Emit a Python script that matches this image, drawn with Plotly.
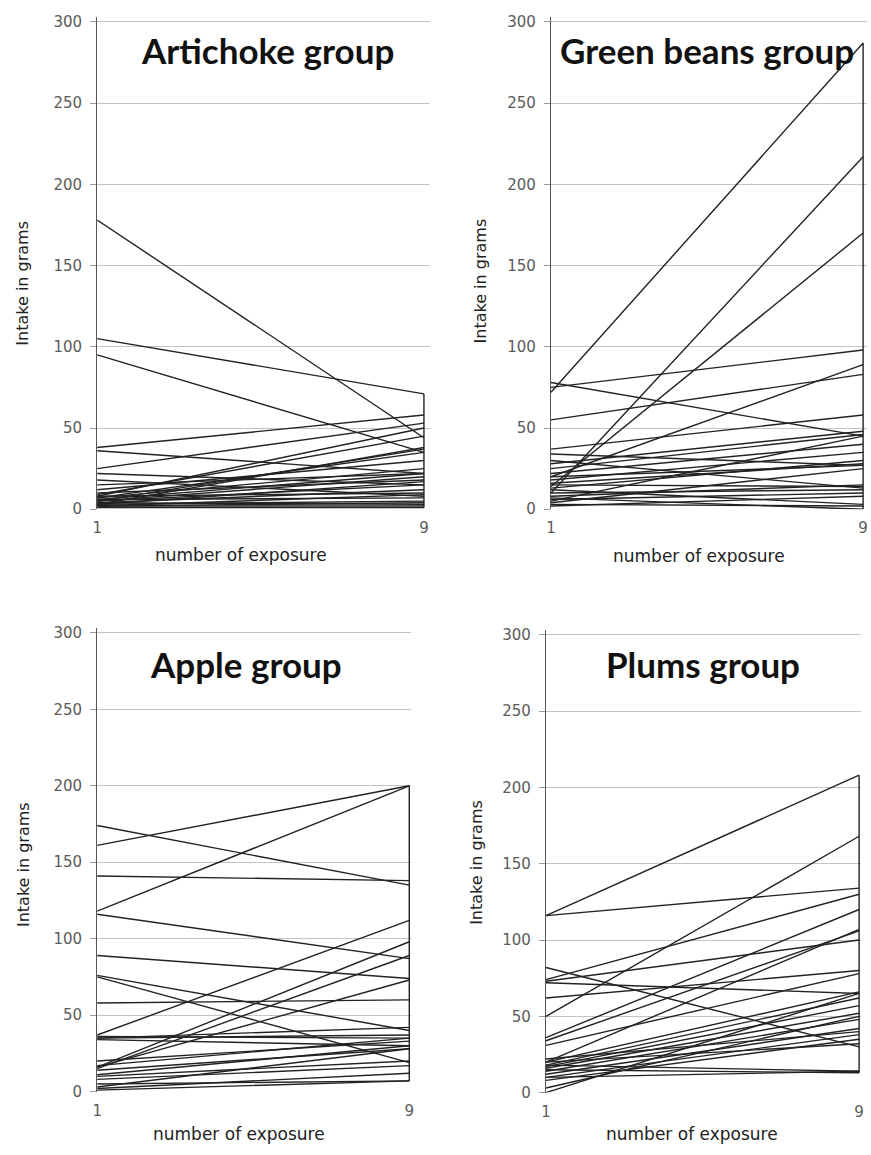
import plotly.graph_objects as go

exposure = [1, 9]

artichoke_start = [178, 105, 95, 38, 36, 25, 22, 18, 15, 12, 10, 9, 8, 8, 7, 7, 6, 6, 5, 5, 5, 4, 4, 3, 3, 3, 2, 2, 2, 1]
artichoke_end = [44, 71, 35, 58, 22, 53, 15, 8, 22, 30, 18, 45, 50, 10, 35, 25, 22, 7, 37, 15, 20, 3, 12, 38, 5, 17, 2, 4, 9, 1]

beans_start = [72, 10, 14, 75, 78, 55, 20, 37, 34, 28, 25, 22, 20, 18, 16, 15, 13, 10, 8, 6, 5, 4, 3, 2, 7, 12, 30]
beans_end = [287, 217, 170, 98, 45, 83, 89, 58, 27, 48, 46, 40, 27, 35, 28, 14, 30, 12, 15, 10, 45, 25, 2, 8, 0, 3, 13]

apple_start = [161, 118, 174, 141, 116, 89, 76, 75, 58, 37, 35, 34, 35, 16, 15, 16, 17, 14, 11, 10, 8, 5, 3, 2, 1, 36, 20]
apple_end = [200, 200, 135, 138, 87, 74, 40, 19, 60, 112, 37, 30, 42, 98, 89, 73, 35, 28, 30, 20, 17, 7, 28, 12, 7, 35, 33]

plums_start = [116, 116, 50, 74, 73, 36, 82, 72, 62, 34, 31, 20, 0, 20, 18, 17, 16, 14, 12, 10, 8, 18, 15, 10, 22, 3, 20]
plums_end = [208, 134, 168, 130, 100, 120, 30, 65, 80, 106, 78, 107, 65, 66, 62, 57, 52, 48, 42, 38, 35, 14, 13, 14, 40, 50, 32]

y_ticks = [0, 50, 100, 150, 200, 250, 300]
x_ticks = [1, 9]

panels = [
    ("Artichoke group", artichoke_start, artichoke_end, 1, [0.10677, 0.49254], [1, 9.15], [0.55758, 0.98868]),
    ("Green beans group", beans_start, beans_end, 2, [0.6326, 0.99885], [1, 9.1], [0.55758, 0.98868]),
    ("Apple group", apple_start, apple_end, 3, [0.10677, 0.47072], [1, 9.05], [0.04762, 0.45333]),
    ("Plums group", plums_start, plums_end, 4, [0.62687, 0.99197], [1, 9.05], [0.04675, 0.45160]),
]

fig = go.Figure()
line_style = dict(color="#222222", width=1.4)
tick_font = dict(family="DejaVu Sans", size=15, color="#5a5a5a")
layout = {}
for name, s, e, i, xd, xr, yd in panels:
    xa = "x" if i == 1 else f"x{i}"
    ya = "y" if i == 1 else f"y{i}"
    for a, b in zip(s, e):
        fig.add_trace(go.Scatter(x=exposure, y=[a, b], mode="lines", line=line_style,
                                 xaxis=xa, yaxis=ya, showlegend=False, hoverinfo="skip"))
    # vertical connector at last exposure (from data extremes)
    fig.add_trace(go.Scatter(x=[exposure[1], exposure[1]], y=[min(e), max(e)], mode="lines",
                             line=line_style, xaxis=xa, yaxis=ya, showlegend=False, hoverinfo="skip"))
    xkey = "xaxis" if i == 1 else f"xaxis{i}"
    ykey = "yaxis" if i == 1 else f"yaxis{i}"
    layout[xkey] = dict(domain=xd, range=xr, anchor=ya, tickvals=x_ticks, ticktext=[str(v) for v in x_ticks],
                        showgrid=False, zeroline=False, showline=False, ticks="",
                        ticklabelstandoff=8, tickfont=tick_font)
    layout[ykey] = dict(domain=yd, range=[0, 303], anchor=xa, tickvals=y_ticks,
                        showgrid=True, gridcolor="#c4c4c4", gridwidth=1,
                        zeroline=False, showline=True, linecolor="#555", linewidth=1.2,
                        ticks="outside", ticklen=6, tickcolor="#999",
                        ticklabelstandoff=5, tickfont=tick_font)

title_pos = {
    "Artichoke group": (0.304, 1 - 47 / 1155),
    "Green beans group": (0.8129, 1 - 47 / 1155),
    "Apple group": (0.279, 1 - 668 / 1155),
    "Plums group": (0.809, 1 - 668 / 1155),
}
annotations = []
for t, (x, y) in title_pos.items():
    annotations.append(dict(text="<b>" + t + "</b>", x=x, y=y, xref="paper", yref="paper", showarrow=False,
                            font=dict(family="Lato", size=35, color="#111"), xanchor="center", yanchor="middle"))

ytitle_pos = [(18, 282), (480, 280), (18, 870), (476, 868)]
for px, py in ytitle_pos:
    annotations.append(dict(text="Intake in grams", x=px / 871, y=1 - py / 1155, xref="paper", yref="paper",
                            showarrow=False, textangle=-90, xanchor="center", yanchor="middle",
                            font=dict(family="DejaVu Sans", size=16, color="#222")))

xtitle_pos = [(238, 557), (700, 558), (236, 1143), (693, 1143)]
for px, py in xtitle_pos:
    annotations.append(dict(text="number of exposure", x=px / 871, y=1 - py / 1155, xref="paper", yref="paper",
                            showarrow=False, xanchor="center", yanchor="middle",
                            font=dict(family="DejaVu Sans", size=17, color="#222")))

fig.update_layout(width=871, height=1155, margin=dict(l=0, r=0, t=0, b=0),
                  plot_bgcolor="white", paper_bgcolor="white", annotations=annotations, **layout)

fig.write_html("out.html")
